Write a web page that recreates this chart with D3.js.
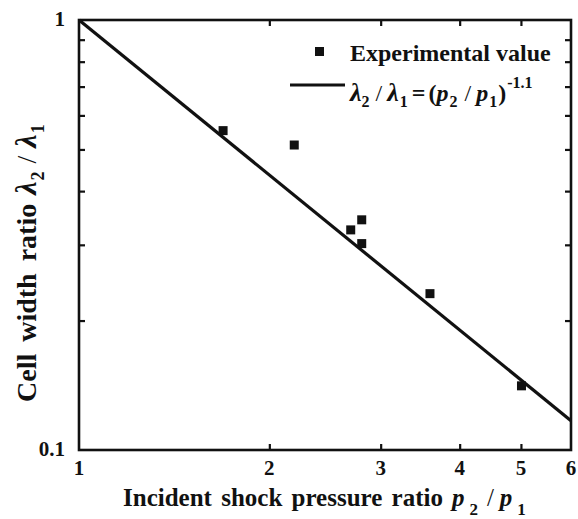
<!DOCTYPE html>
<html>
<head>
<meta charset="utf-8">
<script src="https://cdn.jsdelivr.net/npm/d3@7"></script>
<style>
  body { margin: 0; background: #fff; }
  svg text { font-family: "Liberation Serif", "Times New Roman", serif; font-weight: bold; fill: #111; }
</style>
</head>
<body>
<svg id="chart" width="578" height="519"></svg>
<script>
// experimental points (p2/p1, lambda2/lambda1)
const pressureRatio = [1.69, 2.19, 2.69, 2.80, 2.80, 3.59, 5.01];
const widthRatio = [0.553, 0.512, 0.325, 0.343, 0.302, 0.231, 0.141];
// fitted line as drawn in the figure
const fitX = [1, 6];
const fitY = [1, 0.117];
const xTicks = [1, 2, 3, 4, 5, 6];
const yTicks = [0.1, 1];
const yMinor = [0.2, 0.3, 0.4, 0.5, 0.6, 0.7, 0.8, 0.9];

const svgWidth = 578, svgHeight = 519;
const margin = { top: 20, right: 7, bottom: 69, left: 79 };
const width = svgWidth - margin.left - margin.right;
const height = svgHeight - margin.top - margin.bottom;
const ink = "#111";

const svg = d3.select("#chart");
const g = svg.append("g").attr("transform", `translate(${margin.left},${margin.top})`);

const x = d3.scaleLog().domain([1, 6]).range([0, width]);
const y = d3.scaleLog().domain([0.1, 1]).range([height, 0]);

// ticks inward on all four sides
const inner = [2, 3, 4, 5];
const bottomAxis = g.append("g").attr("transform", `translate(0,${height})`)
  .call(d3.axisBottom(x).tickValues(inner).tickSize(-6).tickFormat(""));
const topAxis = g.append("g")
  .call(d3.axisTop(x).tickValues(inner).tickSize(-6).tickFormat(""));
const leftAxis = g.append("g")
  .call(d3.axisLeft(y).tickValues(yMinor).tickSize(-6).tickFormat(""));
const rightAxis = g.append("g").attr("transform", `translate(${width},0)`)
  .call(d3.axisRight(y).tickValues(yMinor).tickSize(-6).tickFormat(""));
[bottomAxis, topAxis, leftAxis, rightAxis].forEach(a => {
  a.select(".domain").remove();
  a.selectAll("line").attr("stroke", ink).attr("stroke-width", 2.2);
});

// frame
g.append("rect").attr("x", 0).attr("y", 0).attr("width", width).attr("height", height)
  .attr("fill", "none").attr("stroke", ink).attr("stroke-width", 2.6);

// tick labels
g.selectAll(".xlab").data(xTicks).enter().append("text")
  .attr("x", d => x(d)).attr("y", height + 25)
  .attr("text-anchor", "middle").style("font-size", "21px").text(d => d);
g.selectAll(".ylab").data(yTicks).enter().append("text")
  .attr("x", -14).attr("y", d => y(d) + 6)
  .attr("text-anchor", "end").style("font-size", "21px").text(d => d);

// fitted line
const line = d3.line().x(d => x(d[0])).y(d => y(d[1]));
g.append("path").datum(d3.zip(fitX, fitY)).attr("d", line)
  .attr("fill", "none").attr("stroke", ink).attr("stroke-width", 3.2);

// points
const sq = 9;
g.selectAll(".pt").data(d3.zip(pressureRatio, widthRatio)).enter().append("rect")
  .attr("x", d => x(d[0]) - sq / 2).attr("y", d => y(d[1]) - sq / 2)
  .attr("width", sq).attr("height", sq).attr("fill", ink);

// rich text helper: [text, {italic, normal, size, dx, dy}]
function rich(sel, parts) {
  parts.forEach(([t, o]) => {
    const s = sel.append("tspan").text(t);
    if (o.italic) s.style("font-style", "italic");
    if (o.normal) s.style("font-weight", "normal");
    if (o.size) s.style("font-size", o.size + "px");
    if (o.dx) s.attr("dx", o.dx);
    if (o.dy) s.attr("dy", o.dy);
  });
}

// legend
const lg = svg.append("g");
lg.append("rect").attr("x", 315).attr("y", 47).attr("width", sq).attr("height", sq).attr("fill", ink);
lg.append("text").attr("x", 350).attr("y", 61).style("font-size", "24px").text("Experimental value");
lg.append("line").attr("x1", 290).attr("x2", 345).attr("y1", 85).attr("y2", 85)
  .attr("stroke", ink).attr("stroke-width", 3.2);
rich(lg.append("text").attr("x", 350).attr("y", 101).style("font-size", "24px"), [
  ["λ", { italic: true, size: 26 }],
  ["2", { size: 16, dx: 0, dy: 6 }],
  ["/", { normal: true, dx: 6, dy: -6 }],
  ["λ", { italic: true, size: 26, dx: 5 }],
  ["1", { size: 16, dx: 1, dy: 6 }],
  ["=", { dx: 4, dy: -6 }],
  ["(", { dx: 3 }],
  ["p", { italic: true }],
  ["2", { size: 16, dx: 1, dy: 6 }],
  ["/", { normal: true, dx: 7, dy: -6 }],
  ["p", { italic: true, dx: 5 }],
  ["1", { size: 16, dx: 1, dy: 6 }],
  [")", { dx: 1, dy: -6 }],
  ["-1.1", { size: 16, dx: 1, dy: -13 }]
]);

// axis titles
rich(svg.append("text").attr("x", 123).attr("y", 506).style("font-size", "25px").style("word-spacing", "3px"), [
  ["Incident shock pressure ratio", {}],
  ["p", { italic: true, dx: 9 }],
  ["2", { size: 17, dx: 5, dy: 9 }],
  ["/", { normal: true, dx: 9, dy: -9 }],
  ["p", { italic: true, dx: 6 }],
  ["1", { size: 17, dx: 5, dy: 9 }]
]);

rich(svg.append("text").attr("transform", "translate(36,402) rotate(-90)").style("font-size", "28px").style("word-spacing", "5px"), [
  ["Cell width ratio", {}],
  ["λ", { italic: true, size: 30, dx: 9 }],
  ["2", { size: 18, dx: 1, dy: 8 }],
  ["/", { normal: true, dx: 8, dy: -8 }],
  ["λ", { italic: true, size: 30, dx: 8 }],
  ["1", { size: 18, dx: 1, dy: 8 }]
]);
</script>
</body>
</html>
